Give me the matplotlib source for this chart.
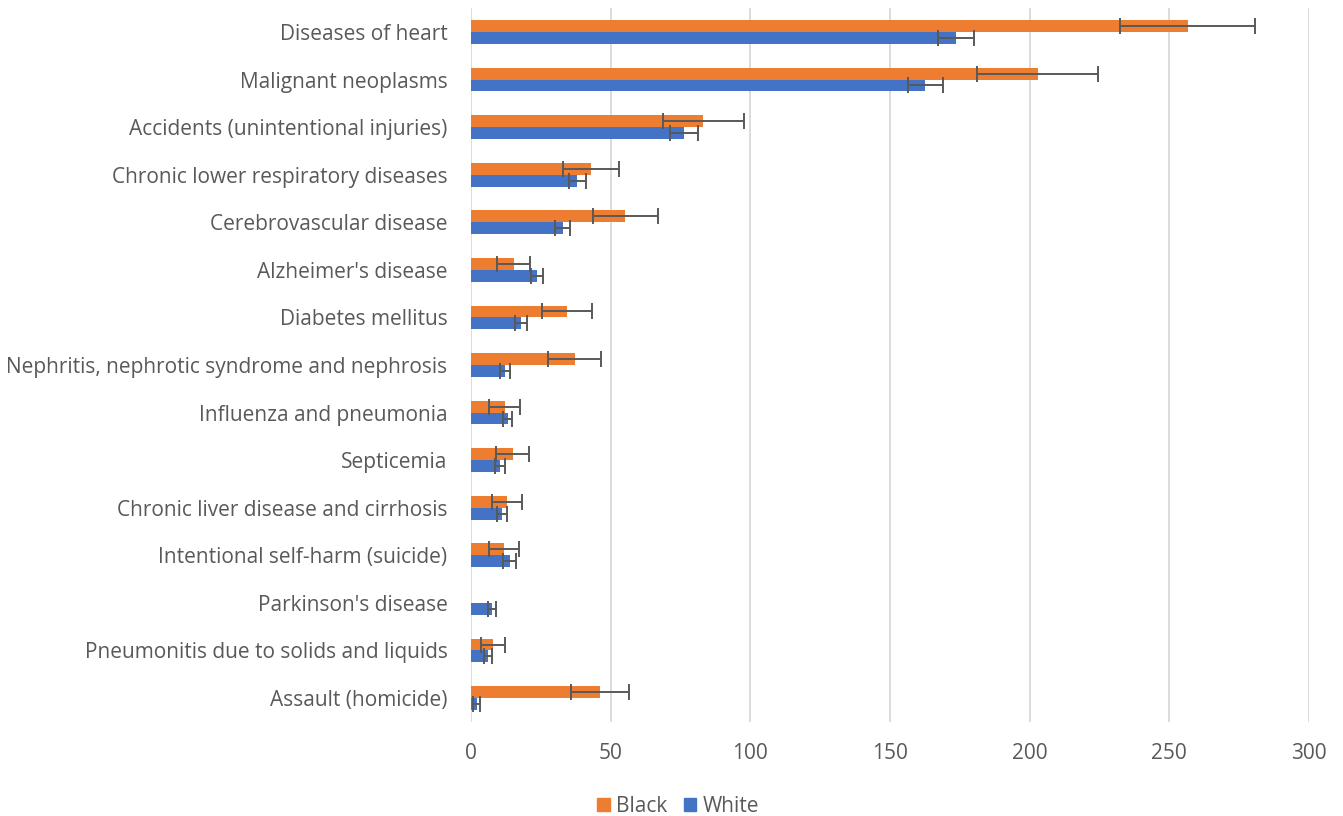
import numpy as np
import matplotlib.pyplot as plt
from matplotlib.patches import Patch

causes = [
    "Diseases of heart",
    "Malignant neoplasms",
    "Accidents (unintentional injuries)",
    "Chronic lower respiratory diseases",
    "Cerebrovascular disease",
    "Alzheimer's disease",
    "Diabetes mellitus",
    "Nephritis, nephrotic syndrome and nephrosis",
    "Influenza and pneumonia",
    "Septicemia",
    "Chronic liver disease and cirrhosis",
    "Intentional self-harm (suicide)",
    "Parkinson's disease",
    "Pneumonitis due to solids and liquids",
    "Assault (homicide)",
]
black = [256.5, 202.9, 83.2, 43.1, 55.3, 15.3, 34.4, 37.1, 12.1, 14.9, 12.9, 11.8, np.nan, 8.0, 46.2]
black_err = [24.3, 21.6, 14.4, 10.0, 11.5, 6.0, 9.0, 9.5, 5.6, 5.9, 5.2, 5.4, np.nan, 4.3, 10.3]
white = [173.6, 162.7, 76.3, 38.1, 32.9, 23.6, 17.9, 12.1, 13.1, 10.3, 11.1, 13.8, 7.5, 6.1, 2.0]
white_err = [6.3, 6.4, 5.1, 3.0, 2.7, 2.2, 2.2, 1.7, 1.7, 1.7, 1.8, 2.4, 1.3, 1.3, 1.2]

plt.rcParams['font.family'] = ['Open Sans', 'DejaVu Sans']
text_col = "#595959"
orange = "#ED7D31"
blue = "#4472C4"

fig = plt.figure(figsize=(13.43, 8.16), dpi=100)
ax = fig.add_axes([0.3507, 0.1154, 0.9747 - 0.3507, 0.99 - 0.1154])

y = np.arange(len(causes))
h = 0.25
err_kw = dict(ecolor="#595959", elinewidth=1.4, capsize=6, capthick=1.4)
ax.barh(y - h / 2, black, height=h, color=orange, xerr=black_err, error_kw=err_kw, zorder=3)
ax.barh(y + h / 2, white, height=h, color=blue, xerr=white_err, error_kw=err_kw, zorder=3)

ax.set_xlim(0, 300)
ax.set_ylim(len(causes) - 0.5, -0.5)
ax.set_xticks(range(0, 301, 50))
ax.set_yticks(y)
ax.set_yticklabels(causes)
ax.grid(axis="x", color="#D9D9D9", linewidth=1.3, zorder=0)
ax.set_axisbelow(True)
for s in ax.spines.values():
    s.set_visible(False)
ax.tick_params(axis="both", length=0, labelsize=15, labelcolor=text_col)
ax.tick_params(axis="x", pad=15)
ax.tick_params(axis="y", pad=17)

handles = [Patch(color=orange, label="Black"), Patch(color=blue, label="White")]
fig.legend(handles=handles, loc="center", bbox_to_anchor=(678 / 1343, 1 - 806 / 816), ncol=2,
           frameon=False, fontsize=15, labelcolor=text_col, handlelength=0.6, handleheight=0.6,
           handletextpad=0.3, columnspacing=0.8)

fig.savefig("out.png", dpi=100)
